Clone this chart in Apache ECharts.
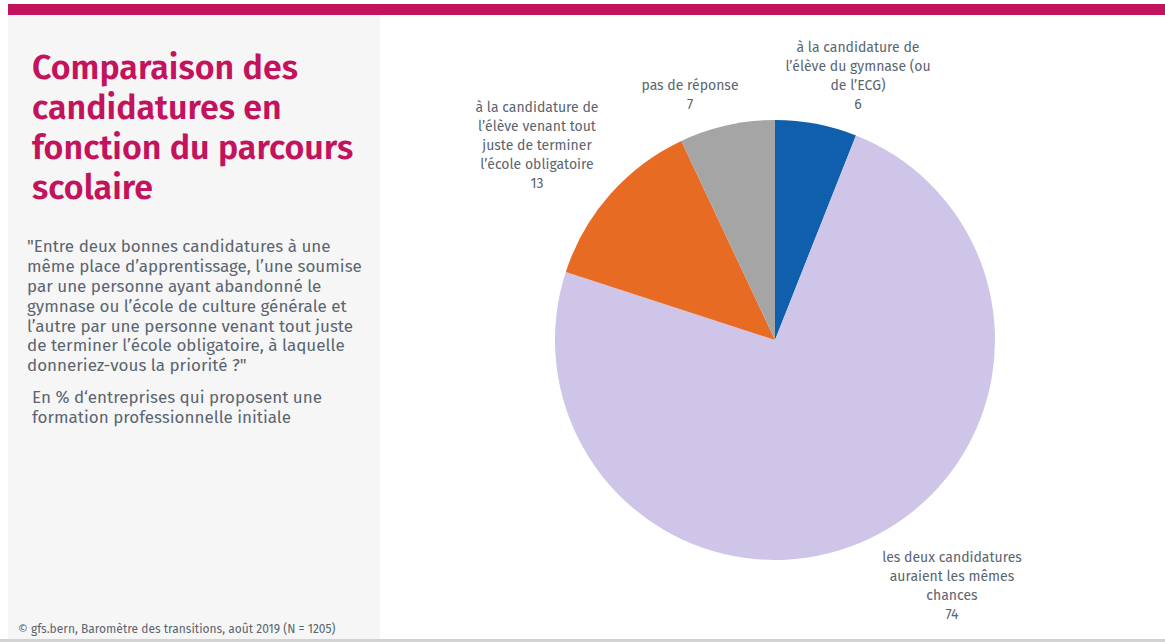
<!DOCTYPE html>
<html>
<head>
<meta charset="utf-8">
<script src="https://cdn.jsdelivr.net/npm/echarts@6/dist/echarts.min.js"></script>
<style>
html,body{margin:0;padding:0;background:#fff;}
#chart{width:1165px;height:642px;}
</style>
</head>
<body>
<div id="chart"></div>
<script>
// ---- data ----
const categories = [
  "à la candidature de\nl’élève du gymnase (ou\nde l’ECG)",
  "les deux candidatures\nauraient les mêmes\nchances",
  "à la candidature de\nl’élève venant tout\njuste de terminer\nl’école obligatoire",
  "pas de réponse"
];
const values = [6, 74, 13, 7];
const colors = ["#0f5fad", "#cfc5e8", "#e86b23", "#a5a5a5"];

const titleLines = ["Comparaison des", "candidatures en", "fonction du parcours", "scolaire"];
const questionLines = [
  "\"Entre deux bonnes candidatures à une",
  "même place d’apprentissage, l’une soumise",
  "par une personne ayant abandonné le",
  "gymnase ou l’école de culture générale et",
  "l’autre par une personne venant tout juste",
  "de terminer l’école obligatoire, à laquelle",
  "donneriez-vous la priorité ?\""
];
const unitLines = ["En % d‘entreprises qui proposent une", "formation professionnelle initiale"];
const sourceText = "© gfs.bern, Baromètre des transitions, août 2019 (N = 1205)";

// ---- layout (label anchor centres, px) ----
const labelAnchors = [[858, 76], [952, 586], [537, 145], [690, 95]];

const FONT = "'Fira Sans', Roboto, 'Noto Sans', sans-serif";
const chart = echarts.init(document.getElementById('chart'), null, {renderer: 'svg'});

const graphics = [
  {type:'rect', shape:{x:8,y:4,width:1157,height:11}, style:{fill:'#c4135d'}, silent:true, z:-10},
  {type:'rect', shape:{x:8,y:15,width:372,height:624}, style:{fill:'#f6f6f6'}, silent:true, z:-10},
  {type:'rect', shape:{x:0,y:639,width:1165,height:3}, style:{fill:'#d2d2d2'}, silent:true, z:-10},
  {type:'text', left:32, top:47, style:{text:titleLines.join('\n'), font:"600 34px " + FONT, fill:'#c4135d', lineHeight:40}},
  {type:'text', left:27, top:237, style:{text:questionLines.join('\n'), font:"17px " + FONT, fill:'#5a6570', lineHeight:19.8}},
  {type:'text', left:32, top:387, style:{text:unitLines.join('\n'), font:"17px " + FONT, fill:'#5a6570', lineHeight:20}},
  {type:'text', left:18, top:623, style:{text:sourceText, font:"12px " + FONT, fill:'#5a6570'}}
];

chart.setOption({
  animation:false,
  backgroundColor:'#ffffff',
  graphic: graphics,
  series:[{
    type:'pie',
    center:[775, 340],
    radius:[0, 220],
    startAngle:90,
    clockwise:true,
    avoidLabelOverlap:false,
    data: categories.map((c,i)=>({name:c, value:values[i], itemStyle:{color:colors[i]}})),
    label:{
      show:true,
      position:'outside',
      formatter:'{b}\n{c}',
      fontFamily:FONT,
      fontSize:14,
      color:'#5a6570',
      lineHeight:19,
      align:'center'
    },
    labelLine:{show:false},
    labelLayout:function(p){
      const a = labelAnchors[p.dataIndex];
      return {x:a[0], y:a[1], align:'center', verticalAlign:'middle'};
    },
    emphasis:{disabled:true}
  }]
});
</script>
</body>
</html>
